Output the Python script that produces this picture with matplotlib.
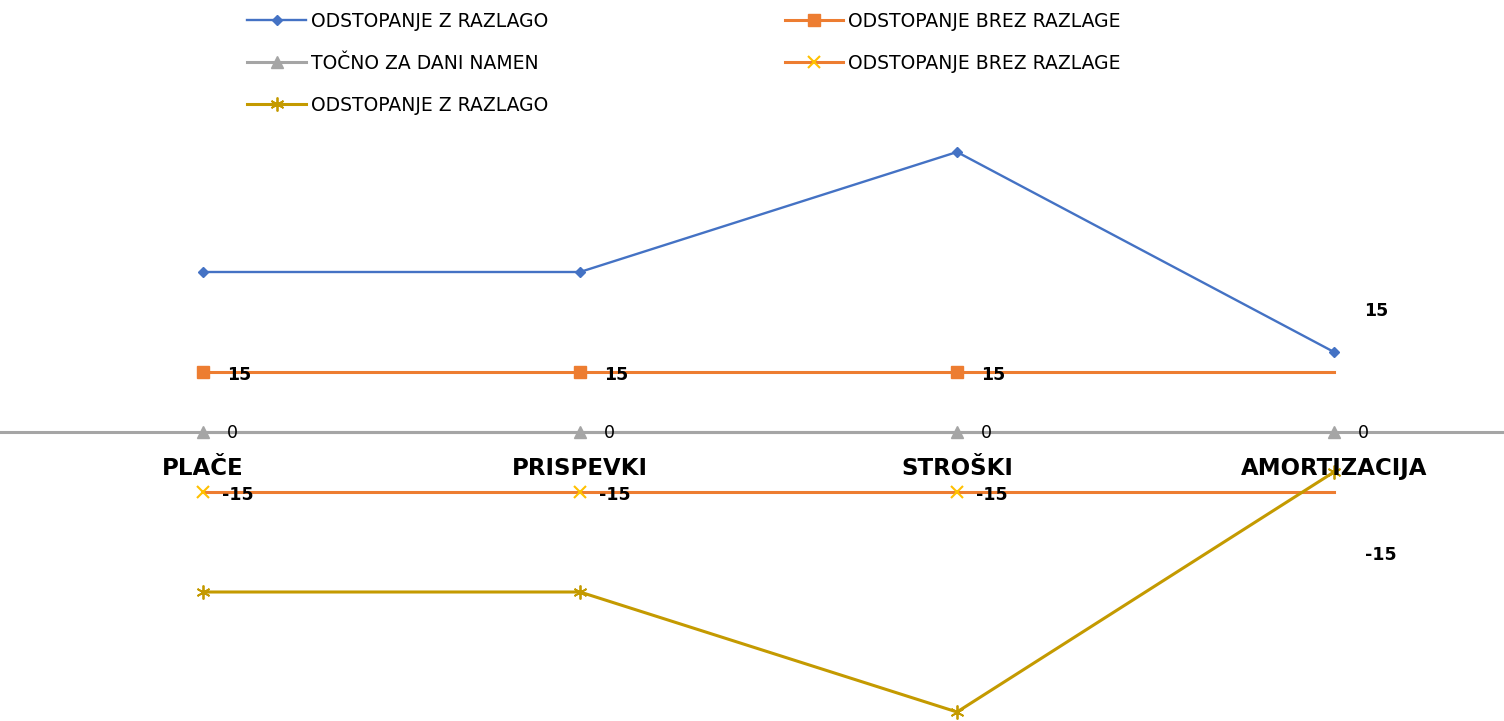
import matplotlib.pyplot as plt

categories = ["PLAČE", "PRISPEVKI", "STROŠKI", "AMORTIZACIJA"]
odst_z_razlago = [40, 40, 70, 20]
odst_brez_razlage = [15, 15, 15, 15]
tocno = [0, 0, 0, 0]
odst_brez_razlage_neg = [-15, -15, -15, -15]
odst_z_razlago_neg = [-40, -40, -70, -10]

BLUE = "#4472C4"
ORANGE = "#ED7D31"
GRAY = "#A5A5A5"
YELLOW = "#FFC000"
GOLD = "#C49A00"

fig = plt.figure(figsize=(15.04, 7.21), dpi=100)
ax = fig.add_axes([0, 0, 1, 1])
x = list(range(len(categories)))

l_blue, = ax.plot(x, odst_z_razlago, color=BLUE, lw=1.7, marker="D", ms=5,
                  label="ODSTOPANJE Z RAZLAGO")
l_osq, = ax.plot(x, odst_brez_razlage, color=ORANGE, lw=2.2, marker="s", ms=8,
                 markevery=[0, 1, 2], label="ODSTOPANJE BREZ RAZLAGE")
l_gray, = ax.plot(x, tocno, color=GRAY, lw=2.2, marker="^", ms=8,
                  label="TOČNO ZA DANI NAMEN")
l_ox, = ax.plot(x, odst_brez_razlage_neg, color=ORANGE, lw=2.2, marker="x", ms=8,
                mec=YELLOW, mew=1.5, markevery=[0, 1, 2],
                label="ODSTOPANJE BREZ RAZLAGE")
l_gold, = ax.plot(x, odst_z_razlago_neg, color=GOLD, lw=2.2, marker=(6, 2, 0),
                  ms=10, mec=GOLD, mew=1.3, label="ODSTOPANJE Z RAZLAGO")

# data labels
for series in (odst_brez_razlage, tocno, odst_brez_razlage_neg):
    for i, v in enumerate(series):
        dy = -2 if v != 0 else -1
        if i == 3 and v != 0:
            dy = 44 if v > 0 else -45
            ax.annotate(str(v), (i, v), xytext=(22, dy), textcoords="offset points",
                        ha="left", va="center", fontsize=12.5, fontweight="bold")
        else:
            ax.annotate(str(v), (i, v), xytext=(17 if v >= 0 else 14, dy),
                        textcoords="offset points", ha="left", va="center",
                        fontsize=12.5, fontweight="bold" if v != 0 else "normal")

ax.set_xlim(-203 / 377, (1504 - 203) / 377)
ax.set_ylim(-72.25, 108)
ax.axhline(0, color=GRAY, lw=2.2, zorder=0)

for s in ax.spines.values():
    s.set_visible(False)
ax.set_yticks([])
ax.set_xticks([])
for i, c in enumerate(categories):
    ax.annotate(c, (i, 0), xytext=(0, -26), textcoords="offset points",
                ha="center", va="center", fontsize=16.5, fontweight="bold")

handles = [l_blue, l_gray, l_gold, l_osq, l_ox]
fig.legend(handles=handles, labels=[h.get_label() for h in handles], ncol=2,
           loc="upper left", bbox_to_anchor=(0.1533, 1.007), frameon=False,
           fontsize=13.5, handlelength=3.1, columnspacing=12.6, labelspacing=1.22,
           handletextpad=0.3)

fig.savefig("out.png", dpi=100)
